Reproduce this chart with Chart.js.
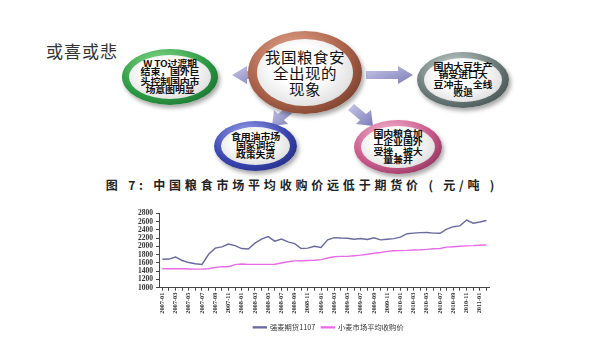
<!DOCTYPE html>
<html lang="zh">
<head>
<meta charset="UTF-8">
<title>或喜或悲</title>
<script src="https://cdn.jsdelivr.net/npm/chart.js"></script>
<style>
    html, body {
        margin: 0;
        padding: 0;
        background: #fff;
    }
    body {
        width: 600px;
        height: 338px;
        position: relative;
        overflow: hidden;
        font-family: "Noto Sans CJK SC", "Noto Sans", sans-serif;
    }
    .heading {
        position: absolute;
        left: 46px;
        top: 38px;
        font-size: 17px;
        color: #333;
        letter-spacing: 1px;
    }
    .bubble {
        position: absolute;
        border-radius: 50%;
        box-shadow: 2px 3px 4px rgba(0,0,0,0.35);
    }
    .bubble .inner {
        position: absolute;
        border-radius: 50%;
        background: radial-gradient(ellipse at 45% 40%, #ffffff 35%, #e4e4e4 70%, #a8a8a8 100%);
        display: flex;
        align-items: center;
        justify-content: center;
        text-align: center;
        font-weight: bold;
        color: #111;
        white-space: nowrap;
    }
    .bubble .inner span {
        display: block;
        transform: scale(1, 0.86);
        font-size: 10px;
        line-height: 10.4px;
        letter-spacing: -0.2px;
    }
    .green { background: radial-gradient(ellipse at 40% 30%, #8fe08f, #2e9a45 55%, #0d5a22); }
    .brown { background: radial-gradient(ellipse at 40% 30%, #e8a890, #a86048 55%, #5a2a1a); }
    .grey  { background: radial-gradient(ellipse at 40% 30%, #c8d4d0, #6a7a78 55%, #2e3a3a); }
    .blue  { background: radial-gradient(ellipse at 40% 30%, #a0a8f0, #3a46b0 55%, #141e66); }
    .pink  { background: radial-gradient(ellipse at 40% 30%, #f8c0d8, #c85a8a 55%, #6a1a40); }
    .caption {
        position: absolute;
        left: 0;
        width: 604px;
        top: 176px;
        text-align: center;
        font-size: 12px;
        font-weight: bold;
        letter-spacing: 3.8px;
        color: #222;
    }
    #arrows {
        position: absolute;
        left: 0;
        top: 0;
    }
    .chart-box {
        position: absolute;
        left: 120px;
        top: 206px;
        width: 376px;
        height: 135px;
    }
</style>
</head>
<body>
    <div class="heading">或喜或悲</div>

    <svg id="arrows" width="600" height="200">
        <defs>
            <linearGradient id="arrowFill" x1="0" y1="0" x2="1" y2="1">
                <stop offset="0" stop-color="#c8c8e8"/>
                <stop offset="1" stop-color="#7c7cb8"/>
            </linearGradient>
        </defs>
        <polygon fill="url(#arrowFill)" points="264,71 247,71 247,66 232,75 247,84 247,79 264,79"/>
        <polygon fill="url(#arrowFill)" points="366,71 398,71 398,66 413,75 398,84 398,79 366,79"/>
        <polygon fill="url(#arrowFill)" points="290,104 296,110 284,120 288,124 272,126 274,110 278,114"/>
        <polygon fill="url(#arrowFill)" points="354,104 348,110 360,120 356,124 373,126 371,110 366,114"/>
    </svg>

    <div class="bubble green" style="left:122px; top:49px; width:96px; height:56px;">
        <div class="inner" style="left:7px; top:6px; width:82px; height:44px;"><span>W TO过渡期<br>结束，国外巨<br>头控制国内市<br>场意图明显</span></div>
    </div>
    <div class="bubble brown" style="left:248px; top:31px; width:114px; height:83px;">
        <div class="inner" style="left:9px; top:8px; width:96px; height:67px;"><span style="font-size:15.5px; line-height:17px; font-weight:normal; letter-spacing:0.5px; transform:scale(1,0.95);">我国粮食安<br>全出现的<br>现象</span></div>
    </div>
    <div class="bubble grey" style="left:417px; top:52px; width:92px; height:56px;">
        <div class="inner" style="left:7px; top:6px; width:78px; height:44px;"><span>国内大豆生产<br>销受进口大<br>豆冲击，全线<br>败退</span></div>
    </div>
    <div class="bubble blue" style="left:214px; top:121px; width:83px; height:50px;">
        <div class="inner" style="left:7px; top:6px; width:69px; height:38px;"><span>食用油市场<br>国家调控<br>政策失灵</span></div>
    </div>
    <div class="bubble pink" style="left:354px; top:120px; width:88px; height:54px;">
        <div class="inner" style="left:7px; top:6px; width:74px; height:42px;"><span>国内粮食加<br>工企业国外<br>受挫，被大<br>量兼并</span></div>
    </div>

    <div class="caption">图 7: 中国粮食市场平均收购价远低于期货价 ( 元/吨 )</div>

    <div class="chart-box">
        <canvas id="priceChart"></canvas>
    </div>

<script>
    // months on the x axis
    const months = [
        '2007-01', '2007-02', '2007-03', '2007-04', '2007-05', '2007-06',
        '2007-07', '2007-08', '2007-09', '2007-10', '2007-11', '2007-12',
        '2008-01', '2008-02', '2008-03', '2008-04', '2008-05', '2008-06',
        '2008-07', '2008-08', '2008-09', '2008-10', '2008-11', '2008-12',
        '2009-01', '2009-02', '2009-03', '2009-04', '2009-05', '2009-06',
        '2009-07', '2009-08', '2009-09', '2009-10', '2009-11', '2009-12',
        '2010-01', '2010-02', '2010-03', '2010-04', '2010-05', '2010-06',
        '2010-07', '2010-08', '2010-09', '2010-10', '2010-11', '2010-12',
        '2011-01', '2011-02'
    ];

    // 强麦期货1107 (元/吨)
    const futuresPrice = [
        1690, 1695, 1745, 1660, 1610, 1580, 1565, 1810, 1960, 1990,
        2060, 2020, 1950, 1940, 2080, 2180, 2240, 2130, 2180, 2110,
        2070, 1950, 1960, 2005, 1975, 2160, 2215, 2205, 2200, 2175,
        2195, 2170, 2210, 2160, 2175, 2190, 2225, 2310, 2325, 2335,
        2340, 2325, 2320, 2420, 2480, 2500, 2640, 2565, 2595, 2630
    ];

    // 小麦市场平均收购价 (元/吨)
    const purchasePrice = [
        1460, 1460, 1460, 1460, 1455, 1450, 1450, 1460, 1490, 1510,
        1510, 1560, 1575, 1565, 1565, 1565, 1565, 1570, 1600, 1630,
        1650, 1655, 1660, 1665, 1680, 1720, 1750, 1760, 1760, 1775,
        1790, 1810, 1835, 1855, 1880, 1895, 1900, 1905, 1915, 1920,
        1930, 1945, 1950, 1985, 1995, 2005, 2015, 2020, 2030, 2035
    ];

    const seriesNames = ['强麦期货1107', '小麦市场平均收购价'];
    const yTicks = { min: 1000, max: 2800, step: 200 };

    // the legend in the picture sits a little right of the middle
    const legendShift = {
        id: 'legendShift',
        afterLayout(chart) {
            chart.legend.left += 23;
            chart.legend.right += 23;
        }
    };

    new Chart(document.getElementById('priceChart'), {
        type: 'line',
        data: {
            labels: months,
            datasets: [
                {
                    label: seriesNames[0],
                    data: futuresPrice,
                    borderColor: '#6a6aa0',
                    backgroundColor: '#6a6aa0',
                    borderWidth: 1.4,
                    pointRadius: 0,
                    tension: 0
                },
                {
                    label: seriesNames[1],
                    data: purchasePrice,
                    borderColor: '#e86ce8',
                    backgroundColor: '#e86ce8',
                    borderWidth: 1.4,
                    pointRadius: 0,
                    tension: 0
                }
            ]
        },
        plugins: [legendShift],
        options: {
            responsive: true,
            maintainAspectRatio: false,
            animation: false,
            layout: {
                padding: { top: 7, right: 5, left: 0, bottom: 0 }
            },
            plugins: {
                legend: {
                    position: 'bottom',
                    labels: {
                        boxWidth: 13,
                        boxHeight: 1,
                        padding: 6,
                        color: '#333',
                        font: { family: '"Noto Sans CJK SC", sans-serif', size: 7.3 }
                    }
                },
                tooltip: { enabled: false }
            },
            scales: {
                x: {
                    offset: true,
                    border: { color: '#444', width: 1 },
                    grid: {
                        display: true,
                        drawOnChartArea: false,
                        tickLength: 3,
                        color: '#444'
                    },
                    ticks: {
                        autoSkip: false,
                        maxRotation: 90,
                        minRotation: 90,
                        padding: 2,
                        color: '#333',
                        font: { family: '"Liberation Serif", serif', size: 6.3, weight: 'bold' },
                        callback: function (val, i) {
                            return i % 2 === 0 ? this.getLabelForValue(val) : '';
                        }
                    },
                    afterFit: function (scale) {
                        scale.height = 30;
                    }
                },
                y: {
                    min: yTicks.min,
                    max: yTicks.max,
                    border: { color: '#444', width: 1 },
                    grid: {
                        display: true,
                        drawOnChartArea: false,
                        tickLength: 3,
                        color: '#444'
                    },
                    ticks: {
                        stepSize: yTicks.step,
                        autoSkip: false,
                        padding: 3,
                        color: '#333',
                        font: { family: '"Liberation Serif", serif', size: 7.5, weight: 'bold' },
                        callback: function (v) {
                            return String(v);
                        }
                    },
                    afterFit: function (scale) {
                        scale.width = 39;
                    }
                }
            }
        }
    });
</script>
</body>
</html>
